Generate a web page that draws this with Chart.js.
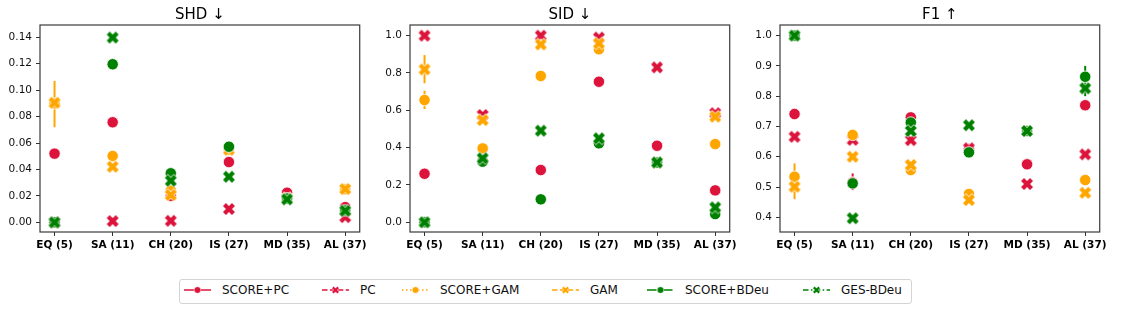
<!DOCTYPE html>
<html>
<head>
<meta charset="utf-8">
<script src="https://cdn.jsdelivr.net/npm/chart.js@4/dist/chart.umd.min.js"></script>
<style>
html,body{margin:0;padding:0;background:#fff;width:1121px;height:311px;overflow:hidden;font-family:"DejaVu Sans",sans-serif;}
.panel{position:absolute;top:0;width:370px;height:260px;}
#legendBox{position:absolute;left:179px;top:279px;width:733px;height:25px;border:1px solid #d4d4d4;border-radius:3px;box-sizing:border-box;}
.item{position:absolute;top:280px;height:20px;display:flex;align-items:center;font-size:12px;color:#111;white-space:nowrap;}
.item svg{display:block;margin-right:11px;}
</style>
</head>
<body>
<div class="panel" style="left:0px"><canvas id="c0" width="370" height="260"></canvas></div>
<div class="panel" style="left:370px"><canvas id="c1" width="370" height="260"></canvas></div>
<div class="panel" style="left:740px"><canvas id="c2" width="370" height="260"></canvas></div>
<div id="legendBox"></div>
<div id="legend"></div>
<script>
// ---------------- data ----------------
const categories = ['EQ (5)', 'SA (11)', 'CH (20)', 'IS (27)', 'MD (35)', 'AL (37)'];
const seriesNames = ['SCORE+PC', 'PC', 'SCORE+GAM', 'GAM', 'SCORE+BDeu', 'GES-BDeu'];
const panelTitles = ['SHD \u2193', 'SID \u2193', 'F1 \u2191'];

// SHD
const shdScorePC   = [0.052, 0.0757, 0.020, 0.0456, 0.0224, 0.0115];
const shdPC        = [0.000, 0.001, 0.0012, 0.0101, 0.018, 0.004];
const shdScoreGAM  = [0.090, 0.0502, 0.024, 0.055, 0.018, 0.025];
const shdGAM       = [0.0905, 0.0421, 0.0207, 0.055, 0.018, 0.0252];
const shdScoreBDeu = [0.000, 0.1196, 0.0371, 0.0572, 0.018, 0.009];
const shdGES       = [0.000, 0.1398, 0.0315, 0.0345, 0.0174, 0.0088];
const shdTicks     = [0.00, 0.02, 0.04, 0.06, 0.08, 0.10, 0.12, 0.14];
const shdErrGAM    = [[0.072, 0.107], null, null, null, null, null];

// SID
const sidScorePC   = [0.260, 0.330, 0.280, 0.753, 0.410, 0.171];
const sidPC        = [1.000, 0.575, 1.000, 0.990, 0.830, 0.585];
const sidScoreGAM  = [0.655, 0.396, 0.784, 0.927, 0.320, 0.419];
const sidGAM       = [0.819, 0.548, 0.953, 0.959, 0.320, 0.566];
const sidScoreBDeu = [0.000, 0.325, 0.123, 0.423, 0.320, 0.044];
const sidGES       = [0.000, 0.343, 0.491, 0.450, 0.321, 0.080];
const sidTicks     = [0.0, 0.2, 0.4, 0.6, 0.8, 1.0];
const sidErrScoreGAM = [[0.607, 0.705], null, null, null, null, null];
const sidErrGAM      = [[0.745, 0.896], null, null, null, null, null];

// F1
const f1ScorePC   = [0.741, 0.515, 0.730, 0.626, 0.575, 0.770];
const f1PC        = [0.666, 0.656, 0.655, 0.628, 0.510, 0.608];
const f1ScoreGAM  = [0.534, 0.672, 0.556, 0.477, 0.685, 0.523];
const f1GAM       = [0.501, 0.600, 0.573, 0.457, 0.685, 0.481];
const f1ScoreBDeu = [1.000, 0.512, 0.713, 0.6145, 0.685, 0.864];
const f1GES       = [1.000, 0.397, 0.685, 0.704, 0.685, 0.826];
const f1Ticks     = [0.4, 0.5, 0.6, 0.7, 0.8, 0.9, 1.0];
const f1ErrScorePC   = [null, [0.490, 0.545], null, null, null, null];
const f1ErrScoreGAM  = [[0.500, 0.578], null, null, null, null, null];
const f1ErrGAM       = [[0.460, 0.540], null, null, null, null, null];
const f1ErrScoreBDeu = [null, null, null, null, null, [0.828, 0.900]];
const f1ErrGES       = [null, null, null, null, null, [0.800, 0.850]];

// ---------------- styles / layout ----------------
const seriesColors = ['#DC143C', '#DC143C', '#FFA500', '#FFA500', '#008000', '#008000'];
const seriesMarkers = ['circle', 'x', 'circle', 'x', 'circle', 'x'];
const legendDash = [[], [5.5, 2.4], [1.5, 2.5], [5.5, 2.4], [9.6, 2.4, 1.5, 2.4], [5.5, 2.4, 1.5, 2.4]];
const legendX = [184, 322, 402, 552, 647, 803];

const panels = [
  { id: 'c0', title: panelTitles[0], values: [shdScorePC, shdPC, shdScoreGAM, shdGAM, shdScoreBDeu, shdGES],
    errors: [null, null, null, shdErrGAM, null, null], ticks: shdTicks, min: -0.0073, max: 0.1493, digits: 2 },
  { id: 'c1', title: panelTitles[1], values: [sidScorePC, sidPC, sidScoreGAM, sidGAM, sidScoreBDeu, sidGES],
    errors: [null, null, sidErrScoreGAM, sidErrGAM, null, null], ticks: sidTicks, min: -0.052, max: 1.057, digits: 1 },
  { id: 'c2', title: panelTitles[2], values: [f1ScorePC, f1PC, f1ScoreGAM, f1GAM, f1ScoreBDeu, f1GES],
    errors: [f1ErrScorePC, null, f1ErrScoreGAM, f1ErrGAM, f1ErrScoreBDeu, f1ErrGES], ticks: f1Ticks, min: 0.3515, max: 1.035, digits: 1 }
];

function xMarker(color, size, edge) {
  const dim = Math.ceil(size + 2 * edge + 2);
  const c = document.createElement('canvas');
  c.width = dim; c.height = dim;
  const g = c.getContext('2d');
  const cx = dim / 2;
  const pts = [[0.25,0],[0.5,0.25],[0.25,0.5],[0,0.25],[-0.25,0.5],[-0.5,0.25],[-0.25,0],[-0.5,-0.25],[-0.25,-0.5],[0,-0.25],[0.25,-0.5],[0.5,-0.25]];
  g.beginPath();
  pts.forEach(([px, py], j) => { const X = cx + px * size, Y = cx + py * size; j ? g.lineTo(X, Y) : g.moveTo(X, Y); });
  g.closePath();
  if (edge) { g.strokeStyle = '#fff'; g.lineWidth = edge * 2; g.lineJoin = 'miter'; g.stroke(); }
  g.fillStyle = color; g.fill();
  return c;
}

const framePlugin = {
  id: 'frame',
  afterDraw(chart) {
    const { ctx, chartArea: a } = chart;
    ctx.save();
    ctx.strokeStyle = '#3a3a3a';
    ctx.lineWidth = 1.2;
    ctx.strokeRect(a.left, a.top, a.right - a.left, a.bottom - a.top);
    ctx.restore();
  }
};

const errPlugin = {
  id: 'errbars',
  beforeDatasetsDraw(chart) {
    const { ctx } = chart;
    const xs = chart.scales.x, ys = chart.scales.y;
    ctx.save();
    chart.data.datasets.forEach(ds => {
      if (!ds.errors) return;
      ds.errors.forEach((e, i) => {
        if (!e) return;
        const x = xs.getPixelForValue(i);
        ctx.strokeStyle = ds.errColor;
        ctx.lineWidth = 2;
        ctx.beginPath();
        ctx.moveTo(x, ys.getPixelForValue(e[0]));
        ctx.lineTo(x, ys.getPixelForValue(e[1]));
        ctx.stroke();
      });
    });
    ctx.restore();
  }
};

Chart.defaults.font.family = '"DejaVu Sans", sans-serif';
Chart.defaults.color = '#222';

panels.forEach(p => {
  const datasets = seriesNames.map((name, k) => ({
    label: name,
    data: p.values[k].map((v, i) => ({ x: i, y: v })),
    showLine: false,
    pointStyle: seriesMarkers[k] === 'x' ? xMarker(seriesColors[k], 12, 0.6) : 'circle',
    pointRadius: 5.7,
    pointHoverRadius: 5.7,
    pointBackgroundColor: seriesColors[k],
    pointBorderColor: '#ffffff',
    pointBorderWidth: 0.8,
    order: seriesNames.length - k,
    errors: p.errors[k],
    errColor: seriesColors[k],
    clip: false
  }));
  new Chart(document.getElementById(p.id), {
    type: 'scatter',
    data: { datasets },
    options: {
      responsive: false,
      animation: false,
      devicePixelRatio: 1,
      events: [],
      layout: { autoPadding: false, padding: { left: 0, right: 3.5, top: 0, bottom: 0 } },
      plugins: {
        legend: { display: false },
        tooltip: { enabled: false },
        title: {
          display: true, text: p.title, fullSize: false, color: '#000',
          font: { size: 15, weight: 'normal' }, padding: { top: 6, bottom: 1 }
        }
      },
      scales: {
        x: {
          type: 'linear', min: -0.25, max: 5.25,
          afterBuildTicks: s => { s.ticks = categories.map((_, i) => ({ value: i })); },
          afterFit: s => { s.height = 28; },
          ticks: { autoSkip: false, maxRotation: 0, padding: 3, color: '#000',
                   font: { size: 10.5, weight: 'bold' },
                   callback: v => categories[v] },
          grid: { display: true, drawOnChartArea: false, drawTicks: true, tickLength: 4, color: '#333' },
          border: { display: false }
        },
        y: {
          type: 'linear', min: p.min, max: p.max,
          afterBuildTicks: s => { s.ticks = p.ticks.map(v => ({ value: v })); },
          afterFit: s => { s.width = 40; },
          ticks: { padding: 4, color: '#111', font: { size: 10.5 },
                   callback: v => Number(v).toFixed(p.digits) },
          grid: { display: true, drawOnChartArea: false, drawTicks: true, tickLength: 4, color: '#333' },
          border: { display: false }
        }
      }
    },
    plugins: [errPlugin, framePlugin]
  });
});

// ---------------- legend (HTML) ----------------
const legendEl = document.getElementById('legend');
seriesNames.forEach((name, k) => {
  const color = seriesColors[k];
  const item = document.createElement('div');
  item.className = 'item';
  item.style.left = legendX[k] + 'px';
  const W = 27, cy = 10, cx = 13.5;
  let marker;
  if (seriesMarkers[k] === 'circle') {
    marker = `<circle cx="${cx}" cy="${cy}" r="3.3" fill="${color}" stroke="#fff" stroke-width="0.5"/>`;
  } else {
    const s = 7.5;
    const pts = [[0.25,0],[0.5,0.25],[0.25,0.5],[0,0.25],[-0.25,0.5],[-0.5,0.25],[-0.25,0],[-0.5,-0.25],[-0.25,-0.5],[0,-0.25],[0.25,-0.5],[0.5,-0.25]]
      .map(([a, b]) => (cx + a * s).toFixed(2) + ',' + (cy + b * s).toFixed(2)).join(' ');
    marker = `<polygon points="${pts}" fill="${color}" stroke="#fff" stroke-width="0.5"/>`;
  }
  const dash = legendDash[k].length ? `stroke-dasharray="${legendDash[k].join(' ')}"` : '';
  item.innerHTML = `<svg width="${W}" height="20"><line x1="0" y1="${cy}" x2="${W}" y2="${cy}" stroke="${color}" stroke-width="1.5" ${dash}/>${marker}</svg><span>${name}</span>`;
  legendEl.appendChild(item);
});
</script>
</body>
</html>
